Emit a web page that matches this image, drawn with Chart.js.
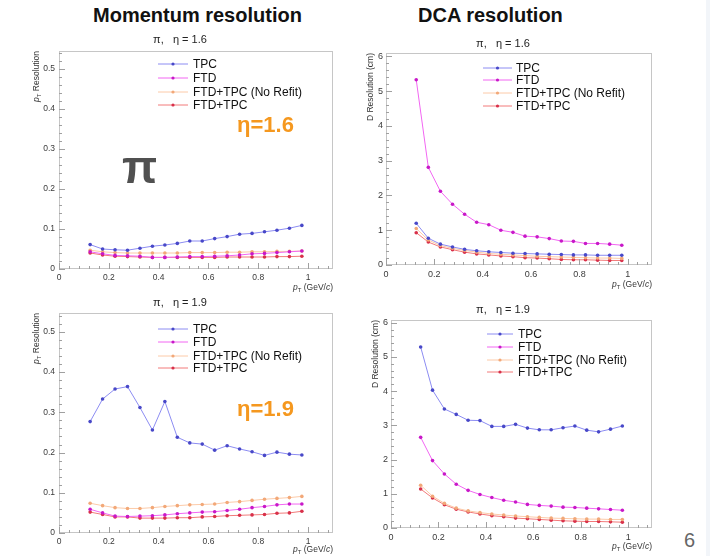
<!DOCTYPE html>
<html lang="en">
<head>
<meta charset="UTF-8" />
<title>Momentum and DCA resolution</title>
<script src="https://cdn.jsdelivr.net/npm/chart.js"></script>
<style>
  body { margin: 0; width: 710px; height: 556px; background: #fff; position: relative; overflow: hidden;
         font-family: "Liberation Sans", Arial, sans-serif; }
  canvas { position: absolute; }
  .head { position: absolute; top: 4px; line-height: 23px; font-weight: bold; font-size: 20px; color: #111; }
  .page { position: absolute; left: 684px; top: 529px; font-size: 20px; color: #666; }
  .edge { position: absolute; left: 706px; top: 0; width: 4px; height: 556px; background: #f2f5f9; }
</style>
</head>
<body>
<div class="head" style="left:93px">Momentum resolution</div>
<div class="head" style="left:418px">DCA resolution</div>
<div class="page">6</div>
<div class="edge"></div>

<canvas id="momEta16" width="345" height="265" style="left:0;top:30px"></canvas>
<canvas id="dcaEta16" width="310" height="265" style="left:355px;top:30px"></canvas>
<canvas id="momEta19" width="345" height="264" style="left:0;top:292px"></canvas>
<canvas id="dcaEta19" width="310" height="264" style="left:355px;top:292px"></canvas>

<script>
  // pT bin centres (GeV/c)
  const ptBins = [0.125, 0.175, 0.225, 0.275, 0.325, 0.375, 0.425, 0.475, 0.525,
                  0.575, 0.625, 0.675, 0.725, 0.775, 0.825, 0.875, 0.925, 0.975];
  const seriesNames = ['TPC', 'FTD', 'FTD+TPC (No Refit)', 'FTD+TPC'];

  // momentum resolution, eta = 1.6
  const momTpc16     = [0.061,0.050,0.048,0.047,0.052,0.057,0.060,0.064,0.070,0.070,0.076,0.081,0.087,0.089,0.093,0.097,0.102,0.109];
  const momFtd16     = [0.043,0.038,0.034,0.033,0.032,0.029,0.029,0.030,0.031,0.031,0.032,0.033,0.035,0.038,0.039,0.041,0.043,0.045];
  const momNoRefit16 = [0.047,0.043,0.041,0.040,0.040,0.040,0.040,0.040,0.041,0.041,0.041,0.042,0.042,0.043,0.043,0.044,0.044,0.045];
  const momComb16    = [0.040,0.035,0.032,0.031,0.030,0.029,0.029,0.029,0.029,0.029,0.029,0.030,0.030,0.030,0.030,0.031,0.031,0.032];

  // DCA resolution (cm), eta = 1.6
  const dcaTpc16     = [1.20,0.77,0.60,0.52,0.45,0.41,0.38,0.36,0.34,0.33,0.32,0.31,0.30,0.29,0.29,0.28,0.28,0.28];
  const dcaFtd16     = [5.33,2.81,2.12,1.75,1.46,1.23,1.16,1.00,0.94,0.83,0.81,0.76,0.69,0.68,0.62,0.62,0.60,0.57];
  const dcaNoRefit16 = [1.05,0.72,0.56,0.48,0.42,0.37,0.33,0.31,0.29,0.27,0.25,0.24,0.23,0.22,0.21,0.20,0.20,0.19];
  const dcaComb16    = [0.93,0.66,0.52,0.44,0.37,0.32,0.29,0.26,0.24,0.21,0.20,0.18,0.16,0.15,0.15,0.14,0.13,0.13];

  // momentum resolution, eta = 1.9
  const momTpc19     = [0.277,0.333,0.358,0.364,0.312,0.256,0.327,0.238,0.224,0.221,0.206,0.217,0.209,0.202,0.193,0.201,0.196,0.194];
  const momFtd19     = [0.059,0.050,0.042,0.041,0.042,0.043,0.045,0.048,0.050,0.052,0.053,0.056,0.059,0.063,0.066,0.070,0.072,0.072];
  const momNoRefit19 = [0.074,0.068,0.063,0.061,0.061,0.063,0.066,0.068,0.070,0.071,0.072,0.076,0.078,0.081,0.084,0.086,0.088,0.091];
  const momComb19    = [0.052,0.046,0.040,0.040,0.037,0.037,0.037,0.038,0.038,0.040,0.041,0.043,0.044,0.045,0.046,0.049,0.050,0.054];

  // DCA resolution (cm), eta = 1.9
  const dcaTpc19     = [5.29,4.03,3.48,3.32,3.15,3.14,2.97,2.97,3.03,2.92,2.87,2.87,2.93,2.98,2.86,2.81,2.89,2.98];
  const dcaFtd19     = [2.65,1.97,1.58,1.28,1.10,0.98,0.89,0.81,0.76,0.69,0.66,0.64,0.61,0.60,0.58,0.56,0.54,0.52];
  const dcaNoRefit19 = [1.25,0.93,0.72,0.58,0.50,0.45,0.41,0.38,0.35,0.33,0.31,0.29,0.28,0.27,0.26,0.26,0.25,0.25];
  const dcaComb19    = [1.14,0.88,0.68,0.55,0.47,0.41,0.36,0.33,0.29,0.27,0.25,0.23,0.21,0.20,0.19,0.19,0.18,0.17];

  const lineColors  = ['#8c8cf2', '#f266f2', '#fccaa8', '#f27a7a'];
  const pointColors = ['#4848c8', '#c818c8', '#f2a878', '#d8304a'];
  const FONT = '"Liberation Sans", Arial, sans-serif';

  // draw a run of text pieces: {t, it (italic), sub (subscript)}
  function drawParts(ctx, parts, x, y, size, align) {
    const fontFor = p => (p.it ? 'italic ' : '') + (p.sub ? size * 0.7 : size) + 'px ' + FONT;
    let w = 0;
    parts.forEach(p => { ctx.font = fontFor(p); w += ctx.measureText(p.t).width; });
    let cx = align === 'right' ? x - w : x;
    ctx.textAlign = 'left';
    ctx.textBaseline = 'alphabetic';
    parts.forEach(p => {
      ctx.font = fontFor(p);
      ctx.fillText(p.t, cx, p.sub ? y + size * 0.25 : y);
      cx += ctx.measureText(p.t).width;
    });
  }

  // ROOT-like frame, inward ticks, axis titles, legend and notes
  const rootDecor = {
    id: 'rootDecor',
    afterDraw(chart, args, o) {
      const { ctx, chartArea: a, scales: { x, y } } = chart;
      ctx.save();
      ctx.strokeStyle = '#c6c6c6';
      ctx.lineWidth = 1;
      ctx.strokeRect(a.left + 0.5, a.top + 0.5, a.right - a.left - 1, a.bottom - a.top - 1);

      ctx.strokeStyle = '#a0a0a0';
      ctx.beginPath();
      for (let i = 0; i * o.xMinor <= x.max + 1e-9; i++) {
        const px = Math.round(x.getPixelForValue(i * o.xMinor)) + 0.5;
        const len = i % o.xPer === 0 ? 6 : 3;
        ctx.moveTo(px, a.bottom); ctx.lineTo(px, a.bottom - len);
      }
      for (let i = 0; i * o.yMinor <= y.max + 1e-9; i++) {
        const py = Math.round(y.getPixelForValue(i * o.yMinor)) + 0.5;
        const len = i % o.yPer === 0 ? 6 : 3;
        ctx.moveTo(a.left, py); ctx.lineTo(a.left + len, py);
      }
      ctx.stroke();

      const lx = v => v - o.ox, ly = v => v - o.oy;
      ctx.fillStyle = '#222';

      // panel title
      ctx.font = '11px ' + FONT;
      ctx.textAlign = 'center';
      ctx.textBaseline = 'middle';
      ctx.fillText(o.title, lx(o.titleX), ly(o.titleY));

      // x title, right aligned on frame
      ctx.fillStyle = '#333';
      drawParts(ctx, [{ t: 'p', it: true }, { t: 'T', sub: true }, { t: ' (GeV/' }, { t: 'c', it: true }, { t: ')' }],
        a.right, a.bottom + o.xTitleDy, 8.5, 'right');

      // y title, rotated and aligned to the top
      ctx.save();
      ctx.translate(lx(o.yTitleX), a.top);
      ctx.rotate(-Math.PI / 2);
      drawParts(ctx, o.yTitle, 0, 3, 8.5, 'right');
      ctx.restore();

      // legend
      chart.data.datasets.forEach((ds, i) => {
        const ry = ly(o.legRows[i]);
        ctx.strokeStyle = ds.borderColor;
        ctx.lineWidth = 1;
        ctx.beginPath();
        ctx.moveTo(lx(o.legX0), ry); ctx.lineTo(lx(o.legX1), ry);
        ctx.stroke();
        ctx.fillStyle = ds.pointBackgroundColor;
        ctx.beginPath();
        ctx.arc(lx((o.legX0 + o.legX1) / 2), ry, 1.6, 0, Math.PI * 2);
        ctx.fill();
        ctx.fillStyle = '#111';
        ctx.font = '12px ' + FONT;
        ctx.textAlign = 'left';
        ctx.textBaseline = 'middle';
        ctx.fillText(ds.label, lx(o.legText), ry + 0.5);
      });

      // free notes on the pad
      (o.notes || []).forEach(n => {
        ctx.fillStyle = n.color;
        ctx.font = n.font;
        ctx.textAlign = 'left';
        ctx.textBaseline = 'middle';
        ctx.fillText(n.text, lx(n.x), ly(n.y));
      });
      ctx.restore();
    }
  };

  function makeDatasets(values) {
    return values.map((vals, i) => ({
      label: seriesNames[i],
      data: ptBins.map((pt, k) => ({ x: pt, y: vals[k] })),
      borderColor: lineColors[i],
      pointBackgroundColor: pointColors[i],
      pointBorderWidth: 0,
      pointRadius: 1.8,
      borderWidth: 1,
      tension: 0,
      fill: false
    }));
  }

  const tickText = v => String(Number(v.toFixed(2)));

  function makeChart(id, values, p) {
    new Chart(document.getElementById(id), {
      type: 'line',
      data: { datasets: makeDatasets(values) },
      plugins: [rootDecor],
      options: {
        responsive: false,
        animation: false,
        devicePixelRatio: 1,
        layout: { padding: { top: p.padTop, right: p.padRight, left: 0, bottom: 0 } },
        plugins: {
          legend: { display: false },
          title: { display: false },
          tooltip: { enabled: false },
          rootDecor: p.decor
        },
        scales: {
          x: {
            type: 'linear', min: 0, max: 1.1,
            grid: { display: false, drawTicks: false }, border: { display: false },
            ticks: { stepSize: 0.2, includeBounds: false, maxRotation: 0, autoSkip: false, callback: tickText,
                     padding: 4, color: '#3a3a3a', font: { size: p.tickSize, family: FONT } },
            afterFit: s => { s.height = p.xHeight; }
          },
          y: {
            type: 'linear', min: 0, max: p.yMax,
            grid: { display: false, drawTicks: false }, border: { display: false },
            ticks: { stepSize: p.yStep, includeBounds: false, autoSkip: false, callback: tickText,
                     padding: p.yPad, color: '#3a3a3a', font: { size: p.tickSize, family: FONT } },
            afterFit: s => { s.width = p.yWidth; }
          }
        }
      }
    });
  }

  const ptResTitle = [{ t: 'p', it: true }, { t: 'T', sub: true }, { t: ' Resolution' }];
  const dcaResTitle = [{ t: 'D Resolution (cm)' }];
  const noteFont = 'bold 22px ' + FONT;

  makeChart('momEta16', [momTpc16, momFtd16, momNoRefit16, momComb16], {
    padTop: 21, padRight: 12, xHeight: 26, yWidth: 59, yMax: 0.545, yStep: 0.1, yPad: 4, tickSize: 8.5,
    decor: { ox: 0, oy: 30, xMinor: 0.04, xPer: 5, yMinor: 0.02, yPer: 5,
             title: 'π,   η = 1.6', titleX: 180, titleY: 40, xTitleDy: 21,
             yTitle: ptResTitle, yTitleX: 36,
             legX0: 158, legX1: 188, legText: 193, legRows: [64, 78, 92, 105],
             notes: [{ text: 'η=1.6', x: 237, y: 126, font: noteFont, color: '#f5981f' },
                     { text: 'π', x: 122, y: 170, font: 'bold 46px ' + FONT, color: '#505050' }] }
  });

  makeChart('dcaEta16', [dcaTpc16, dcaFtd16, dcaNoRefit16, dcaComb16], {
    padTop: 23, padRight: 13, xHeight: 30, yWidth: 31, yMax: 6.1, yStep: 1, yPad: 3, tickSize: 9,
    decor: { ox: 355, oy: 30, xMinor: 0.04, xPer: 5, yMinor: 0.2, yPer: 5,
             title: 'π,   η = 1.6', titleX: 503, titleY: 44, xTitleDy: 22,
             yTitle: dcaResTitle, yTitleX: 370,
             legX0: 483, legX1: 512, legText: 516, legRows: [68, 80, 93, 106] }
  });

  makeChart('momEta19', [momTpc19, momFtd19, momNoRefit19, momComb19], {
    padTop: 21, padRight: 12, xHeight: 23, yWidth: 59, yMax: 0.547, yStep: 0.1, yPad: 4, tickSize: 8.5,
    decor: { ox: 0, oy: 292, xMinor: 0.04, xPer: 5, yMinor: 0.02, yPer: 5,
             title: 'π,   η = 1.9', titleX: 180, titleY: 303, xTitleDy: 19,
             yTitle: ptResTitle, yTitleX: 36,
             legX0: 158, legX1: 188, legText: 193, legRows: [329, 342, 356, 368],
             notes: [{ text: 'η=1.9', x: 237, y: 410, font: noteFont, color: '#f5981f' }] }
  });

  makeChart('dcaEta19', [dcaTpc19, dcaFtd19, dcaNoRefit19, dcaComb19], {
    padTop: 28, padRight: 13, xHeight: 28, yWidth: 36, yMax: 6.08, yStep: 1, yPad: 3, tickSize: 9,
    decor: { ox: 355, oy: 292, xMinor: 0.04, xPer: 5, yMinor: 0.2, yPer: 5,
             title: 'π,   η = 1.9', titleX: 503, titleY: 310, xTitleDy: 21,
             yTitle: dcaResTitle, yTitleX: 375,
             legX0: 487, legX1: 513, legText: 518, legRows: [334, 347, 360, 372] }
  });
</script>
</body>
</html>
